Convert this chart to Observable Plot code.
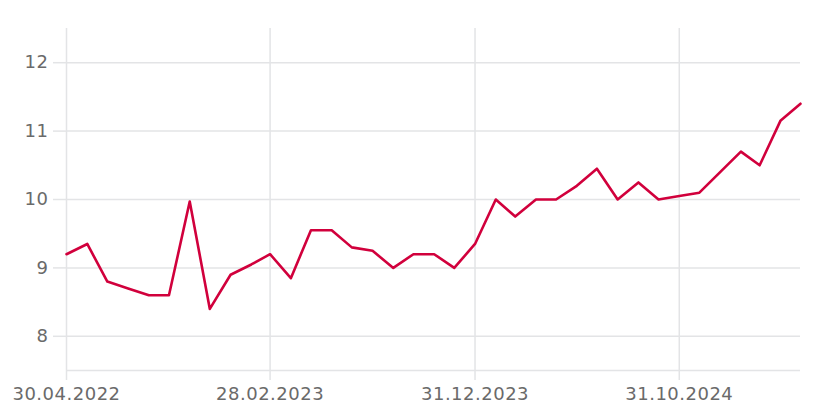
<!DOCTYPE html>
<html>
<head>
<meta charset="utf-8">
<script src="https://cdn.jsdelivr.net/npm/d3@7"></script>
<script src="https://cdn.jsdelivr.net/npm/@observablehq/plot@0.6"></script>
<style>
  html, body { margin: 0; padding: 0; background: #fff; }
  #chart svg { display: block; }
</style>
</head>
<body>
<div id="chart"></div>
<script>
const dates = [
  "2022-04-30","2022-05-31","2022-06-30","2022-07-31","2022-08-31","2022-09-30",
  "2022-10-31","2022-11-30","2022-12-31","2023-01-31","2023-02-28","2023-03-31",
  "2023-04-30","2023-05-31","2023-06-30","2023-07-31","2023-08-31","2023-09-30",
  "2023-10-31","2023-11-30","2023-12-31","2024-01-31","2024-02-29","2024-03-31",
  "2024-04-30","2024-05-31","2024-06-30","2024-07-31","2024-08-31","2024-09-30",
  "2024-10-31","2024-11-30","2024-12-31","2025-01-31","2025-02-28","2025-03-31",
  "2025-04-30"
];
const values = [
  9.2, 9.35, 8.8, 8.7, 8.6, 8.6,
  9.97, 8.4, 8.9, 9.05, 9.2, 8.85,
  9.55, 9.55, 9.3, 9.25, 9.0, 9.2,
  9.2, 9.0, 9.35, 10.0, 9.75, 10.0,
  10.0, 10.2, 10.45, 10.0, 10.25, 10.0,
  10.05, 10.1, 10.4, 10.7, 10.5, 11.15,
  11.4
];
const xTickDates = ["2022-04-30", "2023-02-28", "2023-12-31", "2024-10-31"];
const yTicks = [8, 9, 10, 11, 12];

const parse = d3.utcParse("%Y-%m-%d");
const data = dates.map((d, i) => ({date: parse(d), value: values[i]}));
const xTicks = xTickDates.map(parse);
const fmt = d3.utcFormat("%d.%m.%Y");

const gridColor = "#e3e4e6";
const textColor = "#6a6a6a";

const chart = Plot.plot({
  width: 817,
  height: 417,
  marginLeft: 66,
  marginRight: 17,
  marginTop: 28,
  marginBottom: 47,
  style: {fontFamily: "'DejaVu Sans', sans-serif", fontSize: "18px", color: textColor, background: "#fff"},
  x: {type: "utc", domain: [parse(dates[0]), parse(dates[dates.length - 1])]},
  y: {domain: [7.5, 12.5]},
  marks: [
    Plot.gridY(yTicks, {stroke: gridColor, strokeOpacity: 1, strokeWidth: 1.5}),
    Plot.gridX(xTicks, {stroke: gridColor, strokeOpacity: 1, strokeWidth: 1.5}),
    Plot.ruleY([7.5], {stroke: gridColor, strokeWidth: 1.5}),
    Plot.axisY(yTicks, {tickSize: 13, tickPadding: 5, stroke: gridColor, strokeWidth: 1.5, strokeOpacity: 1, fill: textColor, tickFormat: d3.format("d"), label: null, fontSize: 18}),
    Plot.axisX(xTicks, {tickSize: 10, tickPadding: 7, stroke: gridColor, strokeWidth: 1.5, strokeOpacity: 1, fill: textColor, tickFormat: fmt, label: null, fontSize: 18}),
    Plot.lineY(data, {x: "date", y: "value", stroke: "#d1003c", strokeWidth: 2.6, curve: "linear"})
  ]
});
chart.querySelectorAll("text").forEach(t => t.setAttribute("letter-spacing", "0.5"));
document.getElementById("chart").appendChild(chart);
</script>
</body>
</html>
